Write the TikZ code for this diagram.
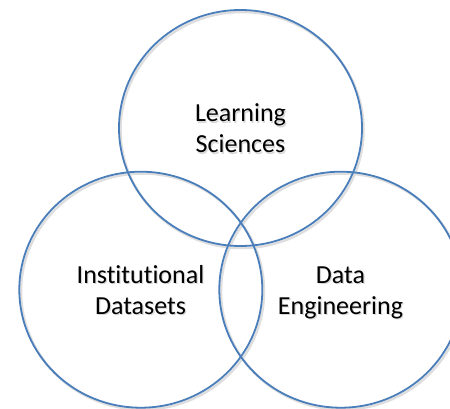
\documentclass[tikz,border=0pt]{standalone}
\usepackage{fontspec}
\setmainfont[Ligatures=NoCommon]{Carlito}
\usetikzlibrary{shapes.geometric}
\definecolor{ringblue}{HTML}{4A7EBB}
\definecolor{shadowgray}{HTML}{C8C8C8}
\tikzset{
  ring/.style={draw=ringblue, line width=1.8pt, ellipse, minimum width=243pt, minimum height=236pt, inner sep=0pt},
  ringshadow/.style={draw=shadowgray!60, line width=2.5pt, ellipse, minimum width=243pt, minimum height=236pt, inner sep=0pt},
  label/.style={align=center, anchor=base, font=\fontsize{26}{31}\selectfont, text=black, inner sep=0pt},
  labelshadow/.style={label, text=shadowgray!70}
}
\begin{document}
\begin{tikzpicture}[x=1pt,y=-1pt]
\useasboundingbox (0,0) rectangle (450,409);
\begin{scope}
\clip (0,0) rectangle (450,409);
% shadows
\node[ringshadow] at (242,130) {};
\node[ringshadow] at (142.5,291.5) {};
\node[ringshadow] at (342.5,291.5) {};
% circles
\node[ring] (ls) at (240.5,128) {};
\node[ring] (id) at (140.8,289.7) {};
\node[ring] (de) at (340.8,289.7) {};
\end{scope}
% label shadows
\node[labelshadow] at (241.7,154.2) {Learning\\Sciences};
\node[labelshadow] at (141.7,315.2) {Institutional\\Datasets};
\node[labelshadow] at (341.7,315.2) {Data\\Engineering};
% labels
\node[label] (lst) at (240.5,153) {Learning\\Sciences};
\node[label] (idt) at (140.5,314) {Institutional\\Datasets};
\node[label] (det) at (340.5,314) {Data\\Engineering};
\end{tikzpicture}
\end{document}
